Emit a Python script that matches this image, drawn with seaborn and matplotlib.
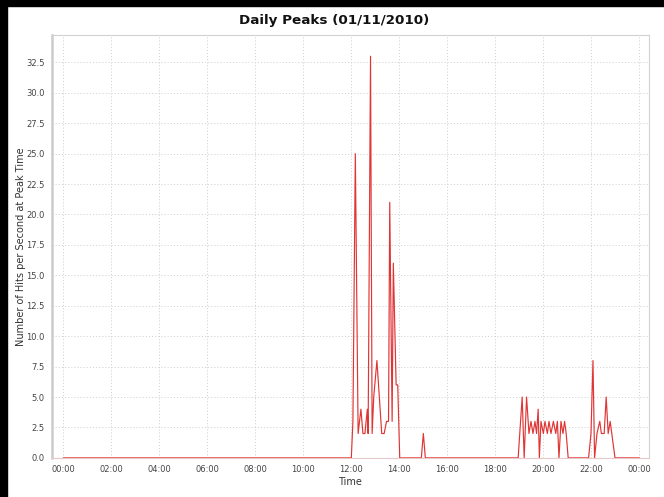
import matplotlib
matplotlib.use("Agg")
import matplotlib.pyplot as plt
from matplotlib.patches import Rectangle
import seaborn as sns
import pandas as pd

# Peak hits per second, sampled through the day (HH:MM)
times = [
    "00:00", "12:00", "12:04", "12:10", "12:17", "12:24", "12:29", "12:34",
    "12:40", "12:42", "12:48", "12:52", "12:56", "13:04", "13:16", "13:22",
    "13:28", "13:33", "13:36", "13:42", "13:45", "13:52", "13:56", "14:01",
    "14:55", "15:00", "15:05",
    "18:57", "19:07", "19:12", "19:18", "19:24", "19:29", "19:34", "19:39",
    "19:43", "19:47", "19:50", "19:54", "20:00", "20:04", "20:10", "20:14",
    "20:19", "20:25", "20:31", "20:35", "20:39", "20:44", "20:49", "20:53",
    "20:57", "21:02",
    "21:53", "21:59", "22:04", "22:08", "22:14", "22:21", "22:25", "22:32",
    "22:37", "22:42", "22:47", "22:51", "22:59", "24:00",
]
hits = [
    0, 0, 3, 25, 2, 4, 2, 2,
    4, 2, 33, 2, 5, 8, 2, 2,
    3, 3, 21, 3, 16, 6, 6, 0,
    0, 2, 0,
    0, 5, 0, 5, 2, 3, 2, 3,
    2, 4, 0, 3, 2, 3, 2, 3,
    2, 3, 2, 3, 0, 3, 2, 3,
    2, 0,
    0, 2, 8, 0, 2, 3, 2, 2,
    5, 2, 3, 2, 0, 0,
]

x_ticks = list(range(0, 25, 2))
x_tick_labels = ["00:00", "02:00", "04:00", "06:00", "08:00", "10:00", "12:00",
                 "14:00", "16:00", "18:00", "20:00", "22:00", "00:00"]
y_ticks = [i * 2.5 for i in range(14)]

title = "Daily Peaks (01/11/2010)"
x_label = "Time"
y_label = "Number of Hits per Second at Peak Time"


def to_hours(t):
    h, m = t.split(":")
    return int(h) + int(m) / 60.0


df = pd.DataFrame({"hour": [to_hours(t) for t in times], "hits": hits})

sns.set_style("white")
plt.rcParams["font.family"] = ["DejaVu Sans"]

fig = plt.figure(figsize=(6.64, 4.97), dpi=100)
ax = fig.add_axes([0.0779, 0.0775, 0.8995, 0.8521])

sns.lineplot(data=df, x="hour", y="hits", ax=ax, color="#e03535",
             linewidth=0.85, estimator=None, sort=False)

ax.set_xlim(-0.48, 24.4)
ax.set_ylim(-0.05, 34.75)
ax.set_xticks(x_ticks)
ax.set_xticklabels(x_tick_labels)
ax.set_yticks(y_ticks)
ax.set_yticklabels([f"{v:.1f}" for v in y_ticks])

ax.grid(True, color="#d4d4d4", linestyle=(0, (1.2, 2)), linewidth=0.7)
ax.set_axisbelow(True)

ax.tick_params(axis="both", labelsize=6, colors="#444444", length=2,
               width=0.6, pad=3, color="#999999")

for side, sp in ax.spines.items():
    sp.set_visible(True)
    sp.set_color("#d0d0d0")
    sp.set_linewidth(0.8)
ax.spines["left"].set_linewidth(1.8)
ax.spines["left"].set_color("#cccccc")
ax.spines["bottom"].set_color("#e8c8c8")

ax.set_xlabel(x_label, fontsize=7, color="#333333", labelpad=2)
ax.set_ylabel(y_label, fontsize=7, color="#333333", labelpad=0)

fig.text(0.503, 0.958, title, ha="center", va="center",
         fontsize=9.7, fontweight="bold", color="#111111")

# black frame bars along the top and left edges
fig.patches.append(Rectangle((0, 0), 0.0105, 1, transform=fig.transFigure,
                             color="black", zorder=10))
fig.patches.append(Rectangle((0, 0.988), 1, 0.012, transform=fig.transFigure,
                             color="black", zorder=10))

fig.savefig("out.png", dpi=100)
